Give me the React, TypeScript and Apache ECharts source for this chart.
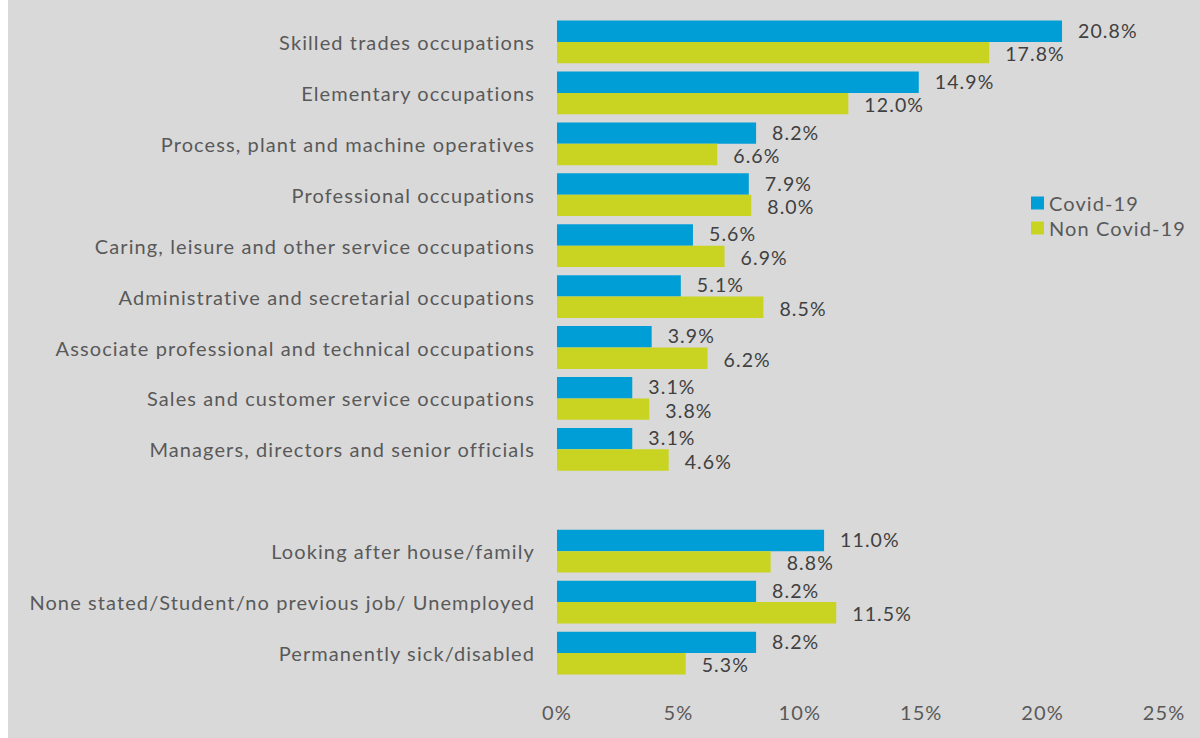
import React, { useEffect, useRef } from "react";
import * as echarts from "echarts";

const categories = [
  "Skilled trades occupations",
  "Elementary occupations",
  "Process, plant and machine operatives",
  "Professional occupations",
  "Caring, leisure and other service occupations",
  "Administrative and secretarial occupations",
  "Associate professional and technical occupations",
  "Sales and customer service occupations",
  "Managers, directors and senior officials",
  "",
  "Looking after house/family",
  "None stated/Student/no previous job/ Unemployed",
  "Permanently sick/disabled",
];
const covid = [20.8, 14.9, 8.2, 7.9, 5.6, 5.1, 3.9, 3.1, 3.1, null, 11.0, 8.2, 8.2];
const nonCovid = [17.8, 12.0, 6.6, 8.0, 6.9, 8.5, 6.2, 3.8, 4.6, null, 8.8, 11.5, 5.3];
const seriesNames = ["Covid-19", "Non Covid-19"];
const xTicks = [0, 5, 10, 15, 20, 25];

const FONT = "Lato";

export default function App() {
  const ref = useRef<HTMLDivElement>(null);
  useEffect(() => {
    if (!ref.current) return;
    const chart = echarts.init(ref.current, null, { renderer: "svg" });
    const makeLabel = (dy: number) => ({
      show: true,
      position: "right",
      distance: 16,
      offset: [0, dy],
      color: "#404040",
      fontFamily: FONT,
      fontSize: 19.5,
      lineHeight: 18,
      formatter: (p: any) => (p.value == null ? "" : Number(p.value).toFixed(1) + "%"),
    });
    chart.setOption({
      animation: false,
      backgroundColor: "#d9d9d9",
      textStyle: { fontFamily: FONT },
      legend: {
        data: seriesNames,
        orient: "vertical",
        left: 1018,
        top: 188,
        itemWidth: 13,
        itemHeight: 13,
        itemGap: 5,
        icon: "rect",
        textStyle: { color: "#595959", fontSize: 20, fontFamily: FONT },
      },
      grid: { left: 549, right: 36, top: 16.5, bottom: 59.5, containLabel: false },
      xAxis: {
        type: "value",
        min: 0,
        max: xTicks[xTicks.length - 1],
        interval: 5,
        splitLine: { show: false },
        axisLine: { show: false },
        axisTick: { show: false },
        axisLabel: {
          formatter: "{value}%",
          color: "#595959",
          fontSize: 20,
          fontFamily: FONT,
          margin: 23,
        },
      },
      yAxis: {
        type: "category",
        data: categories,
        inverse: true,
        axisLine: { show: false },
        axisTick: { show: false },
        axisLabel: { color: "#595959", fontSize: 20, fontFamily: FONT, margin: 22 },
      },
      series: [
        {
          name: seriesNames[0],
          type: "bar",
          data: covid,
          barGap: "0%",
          barCategoryGap: "16%",
          itemStyle: { color: "#009ed6" },
          label: makeLabel(-1),
        },
        {
          name: seriesNames[1],
          type: "bar",
          data: nonCovid,
          barGap: "0%",
          barCategoryGap: "16%",
          itemStyle: { color: "#c9d422" },
          label: makeLabel(1),
        },
      ],
    });
    return () => chart.dispose();
  }, []);
  return (
    <div
      ref={ref}
      style={{ position: "fixed", left: 8, top: 0, width: 1192, height: 738, letterSpacing: "1.1px" }}
    />
  );
}
